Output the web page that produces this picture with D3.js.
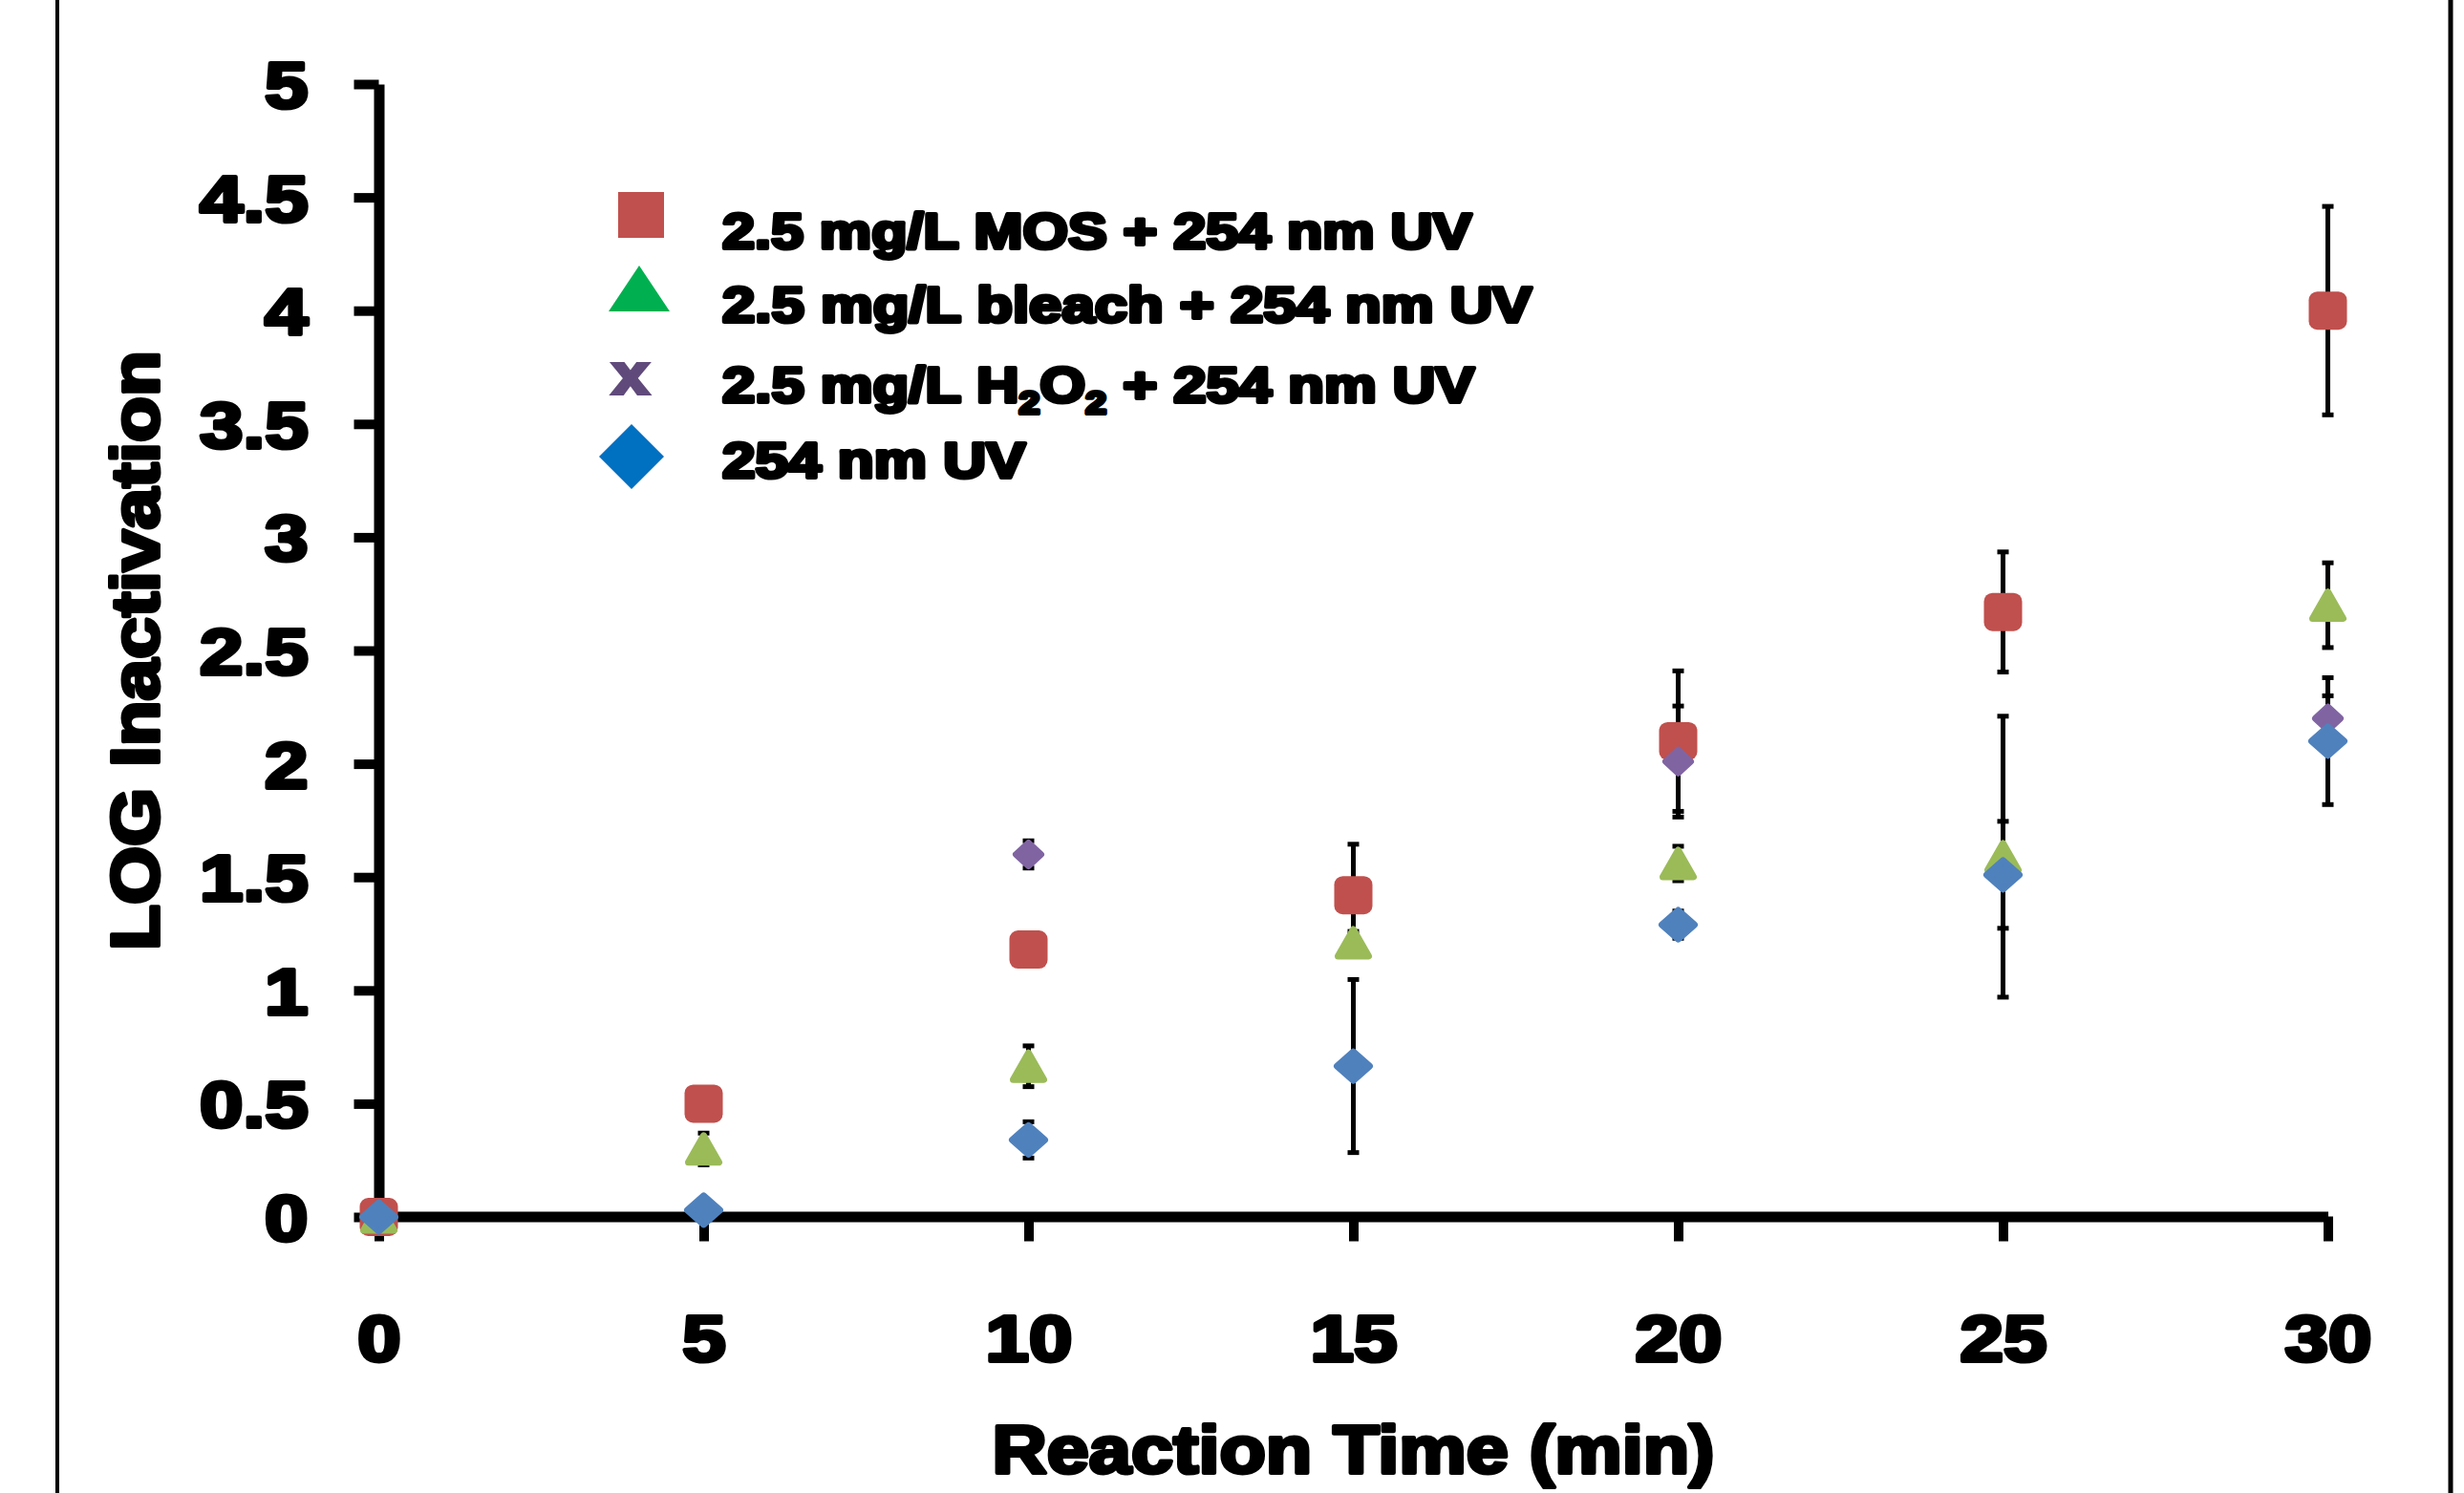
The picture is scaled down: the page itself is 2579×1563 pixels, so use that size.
<!DOCTYPE html>
<html>
<head>
<meta charset="utf-8">
<script src="https://cdn.jsdelivr.net/npm/d3@7"></script>
<style>
  body { margin: 0; background: #fff; }
  text { font-family: "Liberation Sans", Arial, sans-serif; font-weight: bold; }
</style>
</head>
<body>
<svg width="2579" height="1563"></svg>
<script>
var times = [0, 5, 10, 15, 20, 25, 30];

var mosValues = [0, 0.50, 1.18, 1.42, 2.10, 2.67, 4.00];
var mosErrors = [0, 0, 0.03, 0.225, 0.31, 0.265, 0.46];
var bleachValues = [0, 0.30, 0.665, 1.21, 1.56, 1.59, 2.70];
var bleachErrors = [0, 0.07, 0.09, 0.05, 0.076, 0.62, 0.187];
var peroxideValues = [0, 0.02, 1.60, null, 2.01, null, 2.20];
var peroxideErrors = [0, 0, 0.06, null, 0.245, null, 0.1];
var uvValues = [0, 0.03, 0.34, 0.666, 1.29, 1.51, 2.10];
var uvErrors = [0, 0, 0.08, 0.382, 0.06, 0.236, 0.28];

var xTicks = [0, 5, 10, 15, 20, 25, 30];
var yTicks = [0, 0.5, 1, 1.5, 2, 2.5, 3, 3.5, 4, 4.5, 5];

// legend labels, split so subscripts can be lowered
var mosLabel = [['2.5 mg/L MOS + 254 nm UV', false]];
var bleachLabel = [['2.5 mg/L bleach + 254 nm UV', false]];
var peroxideLabel = [['2.5 mg/L H', false], ['2', true], ['O', false], ['2', true], [' + 254 nm UV', false]];
var uvLabel = [['254 nm UV', false]];

var series = [
  { label: mosLabel, values: mosValues, errors: mosErrors, shape: 'square', color: '#C0504D', legendColor: '#C0504D', legendWidth: 785 },
  { label: bleachLabel, values: bleachValues, errors: bleachErrors, shape: 'triangle', color: '#9BBB59', legendColor: '#00B050', legendWidth: 848 },
  { label: peroxideLabel, values: peroxideValues, errors: peroxideErrors, shape: 'smalldiamond', color: '#8064A2', legendColor: '#604A7B', legendWidth: 788 },
  { label: uvLabel, values: uvValues, errors: uvErrors, shape: 'diamond', color: '#4F81BD', legendColor: '#0070C0', legendWidth: 318 }
];

var svg = d3.select('svg');
svg.append('rect').attr('width', 2579).attr('height', 1563).attr('fill', '#fff');

var x = d3.scaleLinear().domain([0, 30]).range([396.5, 2436.5]);
var y = d3.scaleLinear().domain([0, 5]).range([1274, 88]);

// frame lines at left and right edges
svg.append('line').attr('x1', 60).attr('x2', 60).attr('y1', 0).attr('y2', 1563)
  .attr('stroke', '#000').attr('stroke-width', 4);
svg.append('line').attr('x1', 2565).attr('x2', 2565).attr('y1', 0).attr('y2', 1563)
  .attr('stroke', '#000').attr('stroke-width', 5);

function heavy (sel) {
  sel.attr('fill', '#000').attr('stroke', '#000').attr('stroke-width', 4)
    .attr('stroke-linejoin', 'round');
}

// y axis
var yAxis = svg.append('g').attr('transform', 'translate(396.5,0)')
  .call(d3.axisLeft(y).tickValues(yTicks).tickSize(26).tickSizeOuter(0).tickFormat(d3.format('')));
yAxis.select('.domain').attr('stroke-width', 11);
yAxis.selectAll('.tick line').attr('stroke-width', 10);
yAxis.selectAll('.tick text')
  .attr('x', 0).attr('dy', '0.36em')
  .attr('transform', 'translate(-74,0) scale(1.2,1)')
  .attr('font-size', 68).attr('font-family', null)
  .call(heavy);

// x axis
var xAxis = svg.append('g').attr('transform', 'translate(0,1273.5)')
  .call(d3.axisBottom(x).tickValues(xTicks).tickSize(26).tickSizeOuter(0));
xAxis.select('.domain').attr('stroke-width', 11);
xAxis.selectAll('.tick line').attr('stroke-width', 10);
xAxis.selectAll('.tick text')
  .attr('y', 0).attr('dy', '0.71em')
  .attr('transform', 'translate(0,103) scale(1.2,1)')
  .attr('font-size', 68).attr('font-family', null)
  .call(heavy);
svg.selectAll('.domain, .tick line').attr('stroke', '#000');

// stretch a text node to a target ink width
function fit (sel, target, pre) {
  var w = sel.node().getBBox().width;
  sel.attr('transform', pre + ' scale(' + (target / w) + ',1)');
}

var xTitle = svg.append('text').attr('text-anchor', 'middle').attr('font-size', 71)
  .text('Reaction Time (min)').call(heavy);
fit(xTitle, 756, 'translate(' + ((x.range()[0] + x.range()[1]) / 2) + ',1542)');

var yTitle = svg.append('text').attr('text-anchor', 'middle').attr('font-size', 71)
  .text('LOG Inactivation').call(heavy);
fit(yTitle, 628, 'translate(166,' + ((y.range()[0] + y.range()[1]) / 2) + ') rotate(-90)');

// markers
function markerPath (shape) {
  if (shape === 'triangle') return 'M0,-14L16,14L-16,14Z';
  if (shape === 'diamond') return 'M0,-15L17,0L0,15L-17,0Z';
  if (shape === 'smalldiamond') return 'M0,-12L13,0L0,12L-13,0Z';
  return null;
}

function drawMarker (g, shape, color) {
  if (shape === 'square') {
    g.append('rect').attr('x', -20).attr('y', -20).attr('width', 40).attr('height', 40)
      .attr('rx', 9).attr('fill', color);
  } else {
    g.append('path').attr('d', markerPath(shape)).attr('fill', color)
      .attr('stroke', color).attr('stroke-width', 7).attr('stroke-linejoin', 'round');
  }
}

var points = series.map(function (s) {
  return times.map(function (t, i) {
    return { t: t, v: s.values[i], e: s.errors[i], s: s };
  }).filter(function (d) { return d.v !== null; });
});

// error bars under all markers
var bars = svg.append('g');
points.forEach(function (pts) {
  pts.filter(function (d) { return d.e > 0; }).forEach(function (d) {
    var g = bars.append('g').attr('stroke', '#000');
    g.append('line').attr('x1', x(d.t)).attr('x2', x(d.t))
      .attr('y1', y(d.v - d.e)).attr('y2', y(d.v + d.e)).attr('stroke-width', 5);
    [d.v - d.e, d.v + d.e].forEach(function (v) {
      g.append('line').attr('x1', x(d.t) - 6).attr('x2', x(d.t) + 6)
        .attr('y1', y(v)).attr('y2', y(v)).attr('stroke-width', 5);
    });
  });
});

var marks = svg.append('g');
points.forEach(function (pts) {
  pts.forEach(function (d) {
    var g = marks.append('g').attr('transform', 'translate(' + x(d.t) + ',' + y(d.v) + ')');
    drawMarker(g, d.s.shape, d.s.color);
  });
});

// legend
var legendY = [225, 302, 395, 478];
var legendBase = [260, 337, 421, 500];
var legend = svg.append('g');
series.forEach(function (s, i) {
  var cy = legendY[i];
  if (s.shape === 'square') {
    legend.append('rect').attr('x', 647).attr('y', cy - 24).attr('width', 48).attr('height', 48)
      .attr('fill', s.legendColor);
  } else if (s.shape === 'triangle') {
    legend.append('path').attr('d', 'M669,' + (cy - 24) + 'L701,' + (cy + 24) + 'L637,' + (cy + 24) + 'Z')
      .attr('fill', s.legendColor);
  } else if (s.shape === 'smalldiamond') {
    legend.append('text').attr('text-anchor', 'middle').attr('font-size', 60)
      .attr('fill', s.legendColor).attr('stroke', s.legendColor).attr('stroke-width', 4)
      .attr('transform', 'translate(660,412) scale(1.12,1)')
      .text('x');
  } else {
    legend.append('path')
      .attr('d', 'M661,' + (cy - 34) + 'L695,' + cy + 'L661,' + (cy + 34) + 'L627,' + cy + 'Z')
      .attr('fill', s.legendColor);
  }
  var t = legend.append('text').attr('font-size', 52).call(heavy);
  s.label.forEach(function (part, j) {
    var span = t.append('tspan').text(part[0]);
    if (part[1]) span.attr('font-size', 33).attr('dy', 12);
    else if (j > 0) span.attr('dy', -12);
  });
  fit(t, s.legendWidth, 'translate(756,' + legendBase[i] + ')');
});
</script>
</body>
</html>
